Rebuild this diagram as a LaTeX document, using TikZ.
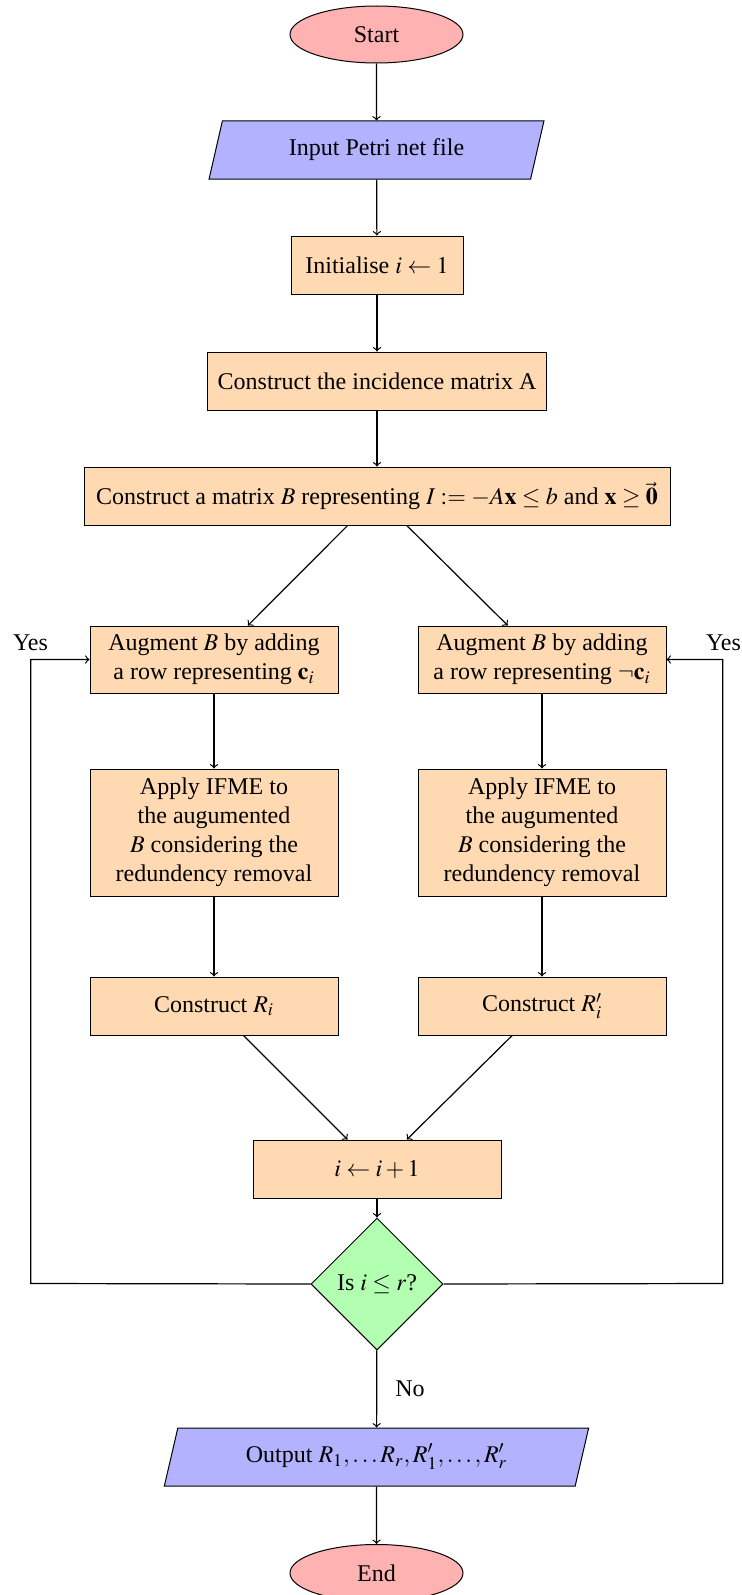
\documentclass[tikz,border=0pt,12pt]{standalone}
\usepackage{mathptmx}
\usepackage{fontspec}
\setmainfont{Liberation Serif}
\usetikzlibrary{shapes.geometric}

\tikzset{
  terminal/.style={ellipse, draw, fill=red!30, minimum width=86.5pt, minimum height=28.5pt, inner sep=0pt},
  io/.style={trapezium, draw, fill=blue!30, trapezium left angle=71, trapezium right angle=109,
             trapezium stretches=true, minimum height=29pt, inner sep=0pt},
  process/.style={rectangle, draw, fill=orange!30, minimum height=29pt, align=center, inner sep=3pt},
  branch/.style={process, minimum width=124pt},
  decision/.style={diamond, draw, fill=green!30, aspect=1, minimum width=66pt, minimum height=66pt, inner sep=0pt},
  flow/.style={->, semithick},
  lbl/.style={inner sep=0pt}
}

\begin{document}
\begin{tikzpicture}[x=0.5pt, y=-0.5pt, line width=0.5pt]
\useasboundingbox (0,0) rectangle (742,1595);

% main column
\node[terminal] (start) at (376.5,34.5) {Start};
\node[io, minimum width=167.5pt] (input) at (376.5,150) {Input Petri net file};
\node[process, minimum width=86pt] (init) at (377,265) {Initialise $i \leftarrow 1$};
\node[process, minimum width=169.5pt] (inc) at (377,381) {Construct the incidence matrix A};
\node[process, minimum width=293pt] (matB) at (377,496)
  {Construct a matrix $B$ representing $I := -A\mathbf{x} \leq b$ and $\mathbf{x} \geq \vec{\mathbf{0}}$};

% two branches
\node[branch, minimum height=33.5pt] (augL) at (214,659.5) {Augment $B$ by adding\\a row representing $\mathbf{c}_i$};
\node[branch, minimum height=33.5pt] (augR) at (542,659.5) {Augment $B$ by adding\\a row representing $\neg\mathbf{c}_i$};
\node[branch, minimum height=63.5pt] (appL) at (214,832.5) {Apply IFME to\\the augumented\\$B$ considering the\\redundency removal};
\node[branch, minimum height=63.5pt] (appR) at (542,832.5) {Apply IFME to\\the augumented\\$B$ considering the\\redundency removal};
\node[branch] (rL) at (214,1006) {Construct $R_i$};
\node[branch] (rR) at (542,1006) {Construct $R'_i$};

% loop control and output
\node[branch] (incr) at (377,1169) {$i \leftarrow i+1$};
\node[decision] (dec) at (377,1284) {Is $i \leq r$?};
\node[io, minimum width=212.5pt] (out) at (376.5,1457) {Output $R_1,\ldots R_r,R'_1,\ldots,R'_r$};
\node[terminal] (end) at (376.5,1573) {End};

\coordinate (lc) at (30.7,1283.5);
\coordinate (rc) at (722.7,1283.5);
\node[lbl] (yesL) at (30.5,643) {Yes};
\node[lbl] (yesR) at (723.5,643) {Yes};

% connectors
\draw[flow] (start) -- (input);
\draw[flow] (input) -- (init);
\draw[flow] (init) -- (inc);
\draw[flow] (inc) -- (matB);
\draw[flow] (matB) -- (augL);
\draw[flow] (matB) -- (augR);
\draw[flow] (augL) -- (appL);
\draw[flow] (augR) -- (appR);
\draw[flow] (appL) -- (rL);
\draw[flow] (appR) -- (rR);
\draw[flow] (rL) -- (incr);
\draw[flow] (rR) -- (incr);
\draw[flow] (incr) -- (dec);
\draw[flow] (dec) -- node[right=5pt] {No} (out);
\draw[flow] (out) -- (end);
\draw[flow] (dec.west) -- (lc) |- (augL.west);
\draw[flow] (dec.east) -- (rc) |- (augR.east);
\end{tikzpicture}
\end{document}
